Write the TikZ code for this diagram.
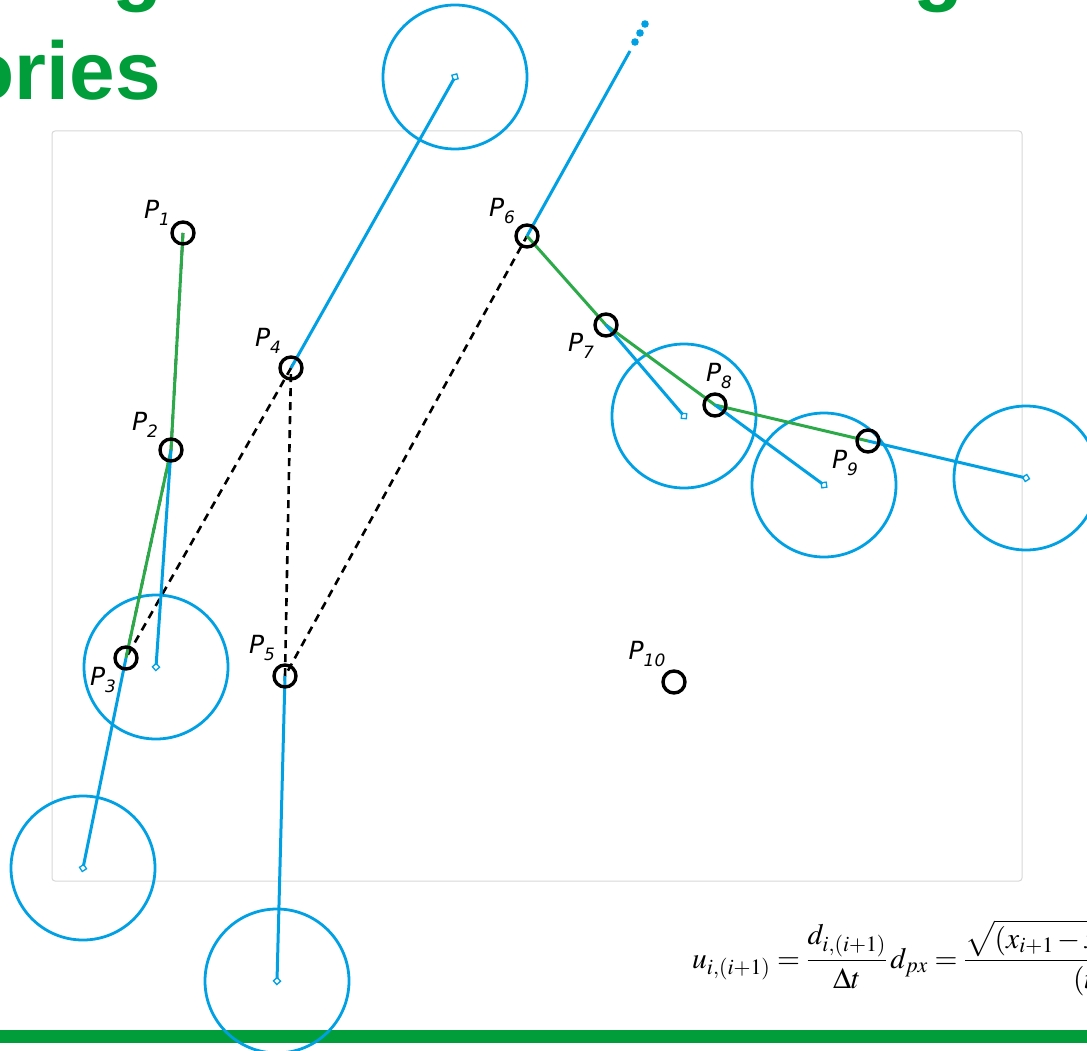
\documentclass[tikz,border=0pt]{standalone}
\usepackage{mathptmx}
\usepackage[no-math]{fontspec}
\newfontfamily\labfont{DejaVu Sans}
\newfontfamily\titlefont{Liberation Sans}
\usetikzlibrary{arrows.meta}
\definecolor{pblue}{RGB}{0,160,227}
\definecolor{pgreen}{RGB}{44,170,74}
\definecolor{tgreen}{RGB}{0,157,58}
\definecolor{framegray}{RGB}{215,215,215}
\newcommand\plab[1]{{\labfont\itshape\fontsize{25}{25}\selectfont P\raisebox{-0.3em}{\fontsize{17}{17}\selectfont #1}}}
\begin{document}
\begin{tikzpicture}[x=1pt,y=-1pt,
  pt/.style={circle,draw=black,line width=3.4pt,minimum size=22pt,inner sep=0pt},
  pred/.style={circle,draw=pblue,line width=2.8pt,minimum size=144pt,inner sep=0pt},
  lab/.style={inner sep=0pt},
  vel/.style={draw=pblue,line width=3pt,-{Diamond[open,length=9pt,width=9pt,line width=1.3pt]},shorten >=-4.5pt},
  traj/.style={draw=pgreen,line width=3pt,line join=round},
  link/.style={draw=black,line width=2.6pt,dash pattern=on 8pt off 6pt},
  titletext/.style={inner sep=0pt,text=tgreen,font=\titlefont\bfseries\fontsize{82}{82}\selectfont}]
\useasboundingbox (0,0) rectangle (1087,1051);
\clip (0,0) rectangle (1087,1051);
% title fragments
\node[titletext,anchor=base west] (tg1) at (112,-4) {g};
\node[titletext,anchor=base west] (tg2) at (913,-4) {g};
\node[titletext,anchor=base east] (tories) at (161,100) {ories};
% frame
\draw[framegray,line width=1pt,rounded corners=3pt] (52,131) rectangle (1022,881);
% bottom bar
\fill[tgreen] (0,1030) rectangle (1087,1043);
% formula
\node[inner sep=0pt,anchor=base west,font=\fontsize{29.5}{32}\selectfont] (formula) at (692,968)
  {$\displaystyle u_{i,(i+1)} = \frac{d_{i,(i+1)}}{\Delta t}\, d_{px} = \frac{\sqrt{(x_{i+1}-x_i)^2+(y_{i+1}-y_i)^2}}{(t_{i+1}-t_i)}$};
% points
\coordinate (q1) at (183,233);
\coordinate (q2) at (171,450);
\coordinate (q3) at (126,658);
\coordinate (q4) at (291,368);
\coordinate (q5) at (285,676);
\coordinate (q6) at (527,236);
\coordinate (q7) at (606,325);
\coordinate (q8) at (715,405);
\coordinate (q9) at (868,441);
\coordinate (q10) at (674,682);
% predicted positions
\node[pred] (c2) at (156,667) {};
\node[pred] (c3) at (83,868) {};
\node[pred] (c4) at (455,77) {};
\node[pred] (c5) at (277,981) {};
\node[pred] (c7) at (684,416) {};
\node[pred] (c8) at (824,485) {};
\node[pred] (c9) at (1026,478) {};
% dashed links
\draw[link] (q1) -- (q2) -- (q3) -- (q4) -- (q5) -- (q6);
% trajectories
\draw[traj] (q1) -- (q2) -- (q3);
\draw[traj] (q6) -- (q7) -- (q8) -- (q9);
% velocity predictions
\draw[vel] (q2) -- (c2.center);
\draw[vel] (q3) -- (c3.center);
\draw[vel] (q4) -- (c4.center);
\draw[vel] (q5) -- (c5.center);
\draw[vel] (q7) -- (c7.center);
\draw[vel] (q8) -- (c8.center);
\draw[vel] (q9) -- (c9.center);
\coordinate (c6) at (630,51);
\draw[pblue,line width=3pt] (q6) -- (c6);
\fill[pblue] (635,42) circle (3.8) (640,33) circle (3.8) (645,24) circle (3.8);
% point rings
\foreach \i in {1,...,10} { \node[pt] (p\i) at (q\i) {}; }
% labels
\node[lab] (l1) at (157,213) {\plab{1}};
\node[lab] (l2) at (145,425) {\plab{2}};
\node[lab] (l3) at (103,680) {\plab{3}};
\node[lab] (l4) at (268,341) {\plab{4}};
\node[lab] (l5) at (262,648) {\plab{5}};
\node[lab] (l6) at (502,211) {\plab{6}};
\node[lab] (l7) at (581,346) {\plab{7}};
\node[lab] (l8) at (719,376) {\plab{8}};
\node[lab] (l9) at (845,463) {\plab{9}};
\node[lab] (l10) at (647,654) {\plab{10}};
\end{tikzpicture}
\end{document}
